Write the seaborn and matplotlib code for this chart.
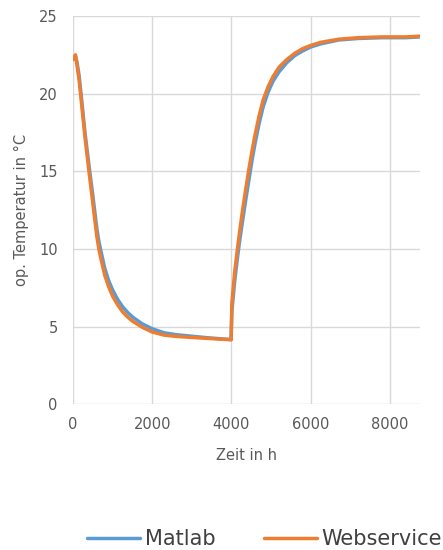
import seaborn as sns
import matplotlib.pyplot as plt
import pandas as pd

hours = [0, 60, 100, 150, 200, 300, 400, 500, 600, 650, 700, 800, 900, 1000,
         1125, 1250, 1375, 1500, 1750, 2000, 2300, 2600, 3000, 3400, 3800,
         3990, 4010, 4080, 4150, 4200, 4280, 4375, 4450, 4525, 4600, 4700,
         4800, 4925, 5050, 5200, 5400, 5600, 5800, 6000, 6250, 6700, 7200,
         7800, 8400, 8760]

temp_matlab = [22.2, 22.4, 22.0, 21.2, 20.0, 17.5, 15.4, 13.4, 11.3, 10.5,
               9.9, 8.75, 7.95, 7.35, 6.75, 6.28, 5.92, 5.62, 5.17, 4.86,
               4.6, 4.48, 4.38, 4.28, 4.2, 4.17, 6.0, 7.9, 9.4, 10.4, 11.8,
               13.4, 14.6, 15.8, 16.85, 18.1, 19.15, 20.1, 20.8, 21.4, 22.0,
               22.45, 22.75, 23.0, 23.2, 23.45, 23.55, 23.6, 23.6, 23.65]

temp_web = [22.2, 22.5, 21.8, 20.9, 19.7, 17.2, 15.0, 12.9, 10.8, 10.0,
            9.4, 8.3, 7.55, 6.95, 6.4, 5.95, 5.62, 5.35, 4.95, 4.65, 4.45,
            4.37, 4.3, 4.24, 4.18, 4.15, 6.5, 8.5, 10.0, 11.0, 12.5, 14.1,
            15.3, 16.4, 17.4, 18.6, 19.6, 20.45, 21.1, 21.7, 22.2, 22.6,
            22.9, 23.1, 23.3, 23.5, 23.6, 23.65, 23.65, 23.7]

series = ["Matlab", "Webservice"]
colors = ["#5B9BD5", "#ED7D31"]

x_ticks = [0, 2000, 4000, 6000, 8000]
y_ticks = [0, 5, 10, 15, 20, 25]

df = pd.concat([
    pd.DataFrame({"Zeit": hours, "Temp": temp_matlab, "Serie": series[0]}),
    pd.DataFrame({"Zeit": hours, "Temp": temp_web, "Serie": series[1]}),
])

sns.set_style("white")
plt.rcParams["font.family"] = ["DejaVu Sans"]

fig = plt.figure(figsize=(4.43, 5.5), dpi=100)
ax = fig.add_axes([0.165, 0.265, 0.783, 0.706])

sns.lineplot(data=df, x="Zeit", y="Temp", hue="Serie", palette=colors,
             linewidth=2.5, legend=False, ax=ax)

ax.set_xlim(0, 8760)
ax.set_ylim(0, 25)
ax.set_xticks(x_ticks)
ax.set_yticks(y_ticks)
ax.grid(True, color="#d9d9d9", linewidth=1)
ax.set_axisbelow(True)
for s in ax.spines.values():
    s.set_visible(False)
ax.tick_params(length=0, labelsize=10.5, labelcolor="#595959")
ax.tick_params(axis="x", pad=9)
ax.tick_params(axis="y", pad=11)

ax.set_xlabel("Zeit in h", fontsize=10.5, color="#595959", labelpad=12)
ax.set_ylabel("op. Temperatur in °C", fontsize=10.5, color="#595959", labelpad=7)

fig.legend(handles=ax.lines[:2], labels=series, loc="center left",
           bbox_to_anchor=(87 / 443, 0.02), ncol=2, frameon=False,
           fontsize=15, handlelength=2.55, handletextpad=0.24,
           columnspacing=2.3, borderpad=0, borderaxespad=0,
           labelcolor="#404040")

fig.savefig("out.png", dpi=100)
plt.close(fig)
